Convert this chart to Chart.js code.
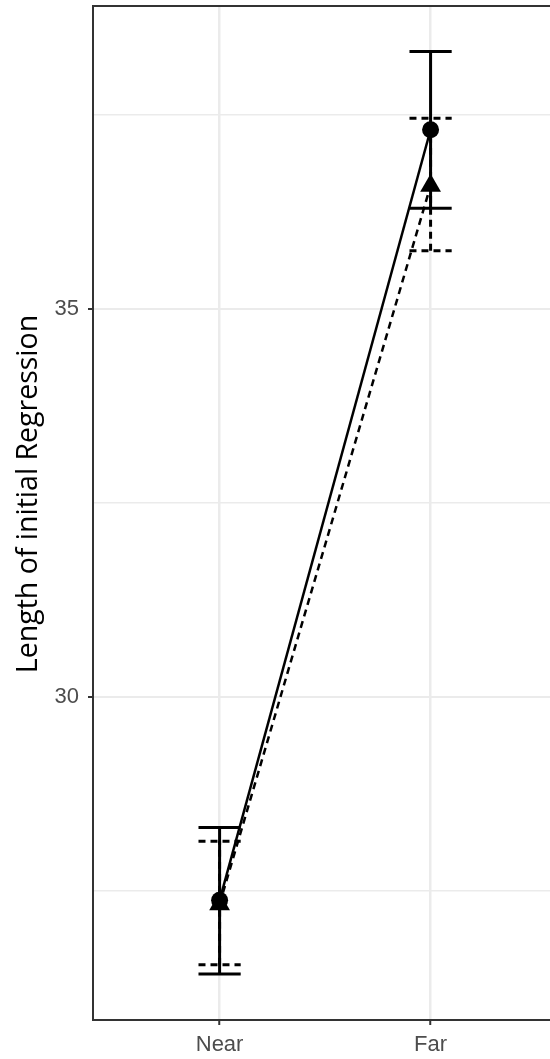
<!DOCTYPE html>
<html>
<head>
<meta charset="utf-8">
<script src="https://cdn.jsdelivr.net/npm/chart.js@4.4.1/dist/chart.umd.min.js"></script>
<style>
  html, body { margin: 0; padding: 0; background: #fff; overflow: hidden; }
  canvas { display: block; }
</style>
</head>
<body>
<canvas id="chart" width="550" height="1059"></canvas>
<script>
const categories = ['Near', 'Far'];

// solid line, circles
const solidMean = [27.38, 37.31];
const solidLow = [26.43, 36.30];
const solidHigh = [28.32, 38.32];

// dashed line, triangles
const dashedMean = [27.33, 36.59];
const dashedLow = [26.55, 35.75];
const dashedHigh = [28.14, 37.46];

const yTicks = [27.5, 30, 32.5, 35, 37.5];
const yLabels = [30, 35];
const yMin = 25.838;
const yMax = 38.905;
const yTitle = 'Length of initial Regression';

const tickFont = { family: '"Liberation Sans", Arial, sans-serif', size: 22 };

// error bars drawn under the points
const errorBars = {
  id: 'errorBars',
  beforeDatasetsDraw(chart) {
    const { ctx, scales: { x, y } } = chart;
    const cap = 0.1;
    const draw = (low, high, dash) => {
      ctx.save();
      ctx.strokeStyle = '#000';
      ctx.lineWidth = 3;
      ctx.setLineDash(dash);
      categories.forEach((c, i) => {
        const px = x.getPixelForValue(i);
        const x0 = x.getPixelForValue(i - cap);
        const x1 = x.getPixelForValue(i + cap);
        const yl = y.getPixelForValue(low[i]);
        const yh = y.getPixelForValue(high[i]);
        ctx.beginPath();
        ctx.moveTo(px, yl); ctx.lineTo(px, yh);
        ctx.moveTo(x0, yl); ctx.lineTo(x1, yl);
        ctx.moveTo(x0, yh); ctx.lineTo(x1, yh);
        ctx.stroke();
      });
      ctx.restore();
    };
    draw(solidLow, solidHigh, []);
    draw(dashedLow, dashedHigh, [7, 5]);
  }
};

// top panel border and y title
const panelExtras = {
  id: 'panelExtras',
  afterDraw(chart) {
    const { ctx, chartArea } = chart;
    ctx.save();
    ctx.strokeStyle = '#333';
    ctx.lineWidth = 2;
    ctx.beginPath();
    ctx.moveTo(chartArea.left - 1, chartArea.top);
    ctx.lineTo(chartArea.right, chartArea.top);
    ctx.stroke();

    ctx.translate(29, 494);
    ctx.rotate(-Math.PI / 2);
    ctx.font = '28.5px "Open Sans", sans-serif';
    ctx.fillStyle = '#000';
    ctx.textAlign = 'center';
    ctx.textBaseline = 'middle';
    ctx.fillText(yTitle, 0, 0);
    ctx.restore();
  }
};

new Chart(document.getElementById('chart').getContext('2d'), {
  type: 'line',
  data: {
    datasets: [
      {
        data: categories.map((c, i) => ({ x: i, y: solidMean[i] })),
        borderColor: '#000',
        borderWidth: 2.5,
        tension: 0,
        pointStyle: 'circle',
        pointRadius: 8.5,
        pointBackgroundColor: '#000',
        pointBorderWidth: 0,
        order: 2
      },
      {
        data: categories.map((c, i) => ({ x: i, y: dashedMean[i] })),
        borderColor: '#000',
        borderWidth: 2.5,
        borderDash: [7, 5],
        tension: 0,
        pointStyle: 'triangle',
        pointRadius: 12,
        pointBackgroundColor: '#000',
        pointBorderWidth: 0,
        order: 1
      }
    ]
  },
  options: {
    responsive: false,
    animation: false,
    layout: { autoPadding: false, padding: { top: 6, left: 0, right: 0, bottom: 0 } },
    plugins: {
      legend: { display: false },
      tooltip: { enabled: false }
    },
    scales: {
      x: {
        type: 'linear',
        min: -0.6,
        max: 1.566,
        afterBuildTicks: s => { s.ticks = categories.map((c, i) => ({ value: i })) },
        afterFit: s => { s.height = 39; s.paddingLeft = 0; s.paddingRight = 0 },
        ticks: {
          callback: v => categories[v],
          color: '#4d4d4d',
          font: tickFont,
          padding: 7,
          autoSkip: false,
          maxRotation: 0
        },
        grid: {
          color: '#ebebeb',
          lineWidth: 2.5,
          tickColor: '#333',
          tickLength: 5,
          tickWidth: 2
        },
        border: { display: true, color: '#333', width: 2 }
      },
      y: {
        type: 'linear',
        min: yMin,
        max: yMax,
        afterBuildTicks: s => { s.ticks = yTicks.map(v => ({ value: v })) },
        afterFit: s => { s.width = 93; s.paddingTop = 0; s.paddingBottom = 0 },
        ticks: {
          callback: v => yLabels.includes(v) ? String(v) : '',
          color: '#4d4d4d',
          font: tickFont,
          padding: 9,
          autoSkip: false
        },
        grid: {
          color: '#ebebeb',
          lineWidth: ctx => yLabels.includes(ctx.tick && ctx.tick.value) ? 2 : 1.5,
          tickColor: ctx => yLabels.includes(ctx.tick && ctx.tick.value) ? '#333' : 'rgba(0,0,0,0)',
          tickLength: 5,
          tickWidth: 2
        },
        border: { display: true, color: '#333', width: 2 }
      }
    }
  },
  plugins: [errorBars, panelExtras]
});
</script>
</body>
</html>
